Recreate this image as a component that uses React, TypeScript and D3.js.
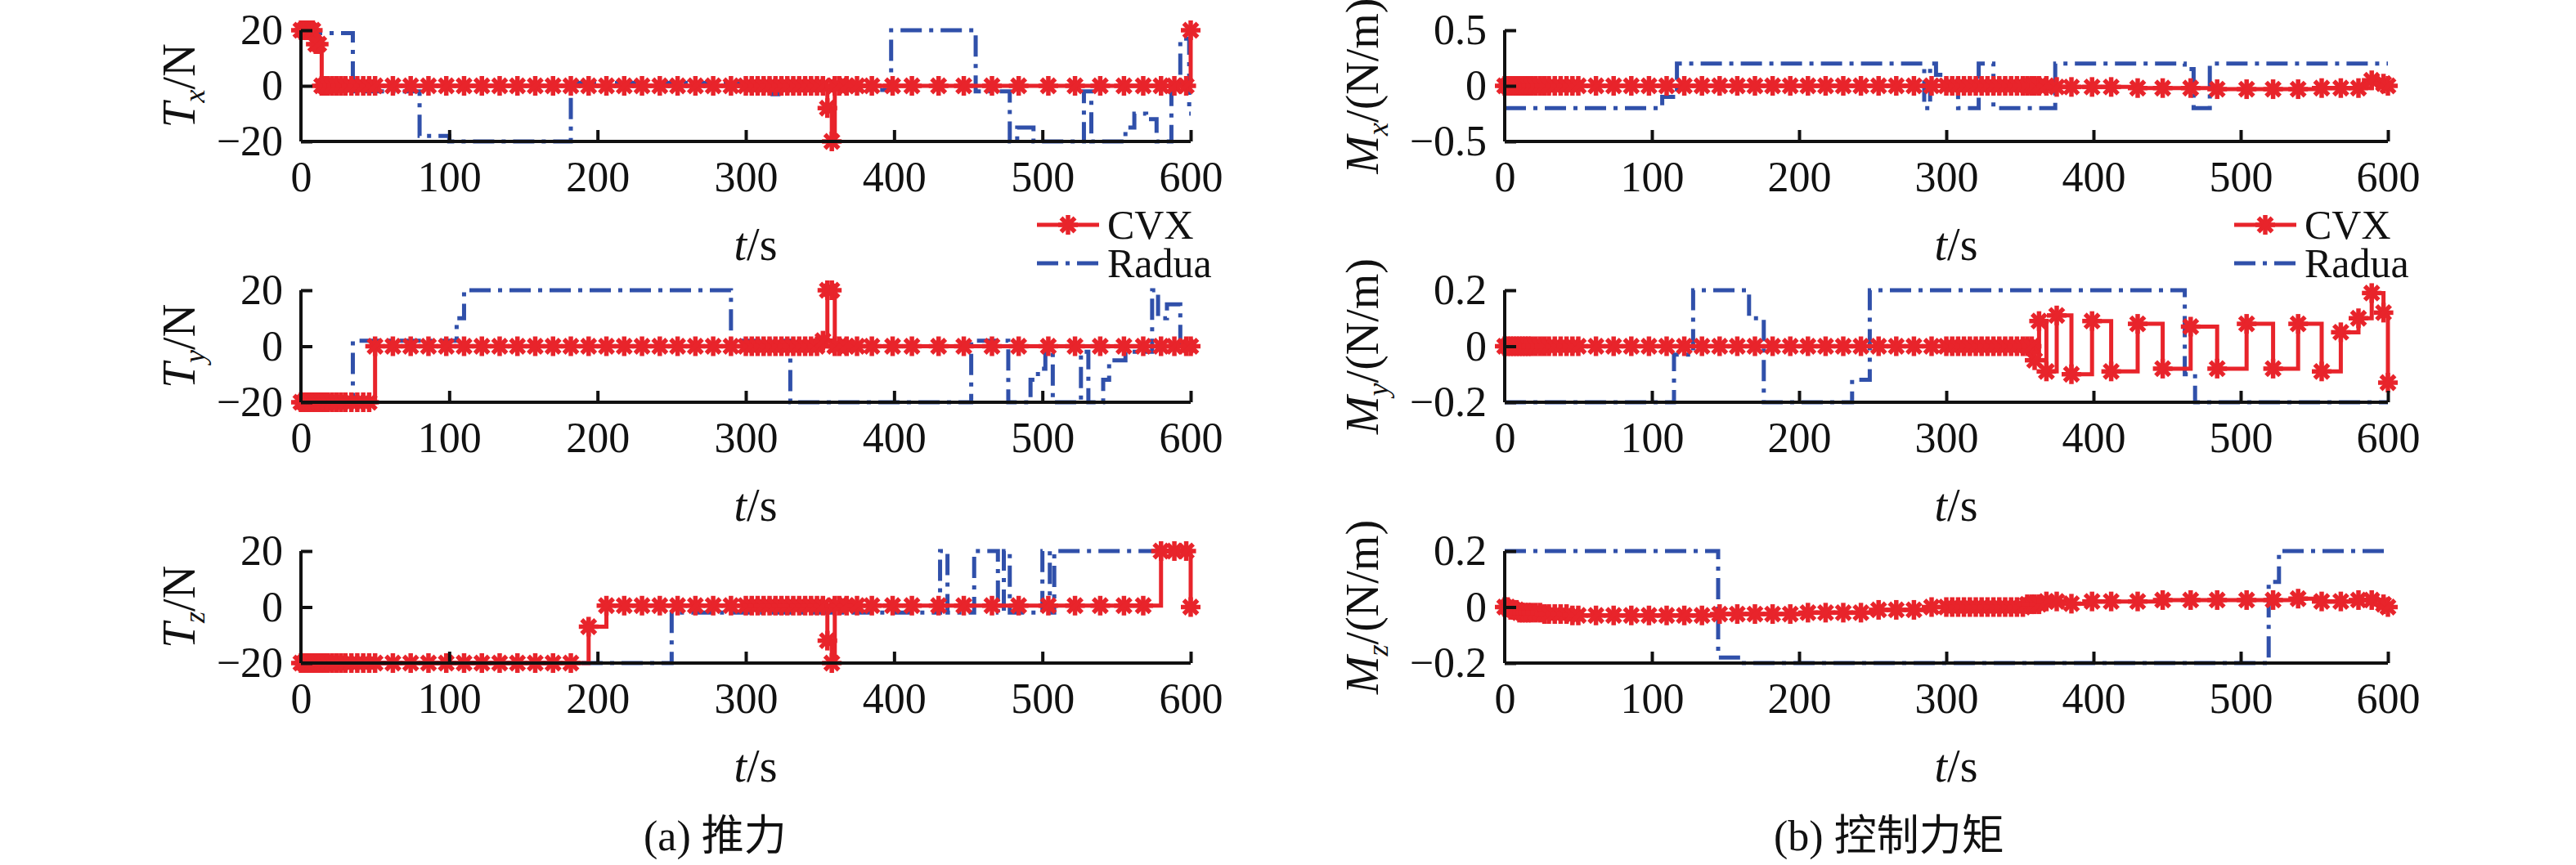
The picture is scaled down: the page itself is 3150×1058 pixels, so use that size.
import * as d3 from 'd3'
import { useEffect, useRef } from 'react'

// marker (sample) times of the CVX solution
const sampleTimes = [
  0, 2, 4, 6, 8, 10, 12, 14, 16, 18, 21, 24, 27, 30, 34, 38, 42, 46, 50, 62, 74, 86, 98, 110, 122, 134, 146, 158, 170,
  182, 194, 206, 218, 230, 242, 254, 266, 278, 290, 300, 304, 308, 312, 316, 320, 324, 328, 332, 336, 340, 344, 348,
  352, 355, 358, 360, 363, 368, 375, 385, 399, 412, 430, 447, 466, 484, 504, 522, 539, 555, 568, 580, 589, 597, 600,
]

// step series: [start time, value]
const cvxTx: [number, number][] = [[0, 20], [10, 15], [14, 0], [355, -8], [358, -20], [360, 0], [598, 20]]
const raduaTx: [number, number][] = [
  [0, 19], [35, -2], [80, -18], [100, -20], [182, 1], [318, -3], [322, -1.5], [398, 20], [455, -2], [478, -20],
  [483, -15], [494, -20], [528, -2], [533, -20], [556, -15], [562, -10], [570, -12], [577, -20], [587, -1], [593, 17],
  [599, -10],
]
const cvxTy: [number, number][] = [[0, -20], [47, 0], [350, 2], [355, 20], [360, 0]]
const raduaTy: [number, number][] = [
  [0, -20], [35, 2], [105, 10], [110, 20], [290, 2], [330, -20], [452, 2], [477, -20], [492, -12], [497, -8],
  [502, -2], [507, -20], [526, -2], [531, -20], [541, -12], [545, -5], [550, -5], [556, -2], [574, 20], [578, 10],
  [584, 15], [593, 0],
]
const cvxTz: [number, number][] = [[0, -20], [185, -7], [198, 0.5], [355, -12], [358, -20], [360, 0.5], [570, 20], [600, 0]]
const raduaTz: [number, number][] = [
  [0, -20], [250, -2], [431, 20], [436, -2], [454, 20], [470, -2], [474, 20], [478, -2], [500, 20], [505, -2], [508, 20],
]
const cvxMx: [number, number][] = [[0, 0], [370, -0.01], [420, -0.02], [470, -0.03], [540, -0.02], [585, 0.05], [595, 0.02], [600, 0]]
const raduaMx: [number, number][] = [
  [0, -0.2], [107, -0.1], [117, 0.2], [285, -0.2], [289, 0.2], [293, 0.1], [300, 0.05], [308, -0.2], [322, 0.2],
  [332, -0.2], [374, 0.2], [462, 0.15], [468, -0.2], [479, 0.2],
]
const cvxMy: [number, number][] = [
  [0, 0], [360, -0.05], [363, 0.09], [368, -0.09], [375, 0.11], [385, -0.1], [399, 0.09], [412, -0.09], [430, 0.08],
  [447, -0.08], [466, 0.07], [484, -0.08], [504, 0.08], [522, -0.08], [539, 0.08], [555, -0.09], [568, 0.05],
  [580, 0.1], [589, 0.19], [597, 0.12], [600, -0.13],
]
const raduaMy: [number, number][] = [
  [0, -0.2], [115, -0.03], [128, 0.2], [166, 0.1], [176, -0.2], [236, -0.12], [248, 0.2], [462, -0.1], [469, -0.2],
]
const cvxMz: [number, number][] = [
  [0, 0], [3, -0.01], [10, -0.02], [25, -0.025], [45, -0.03], [140, -0.025], [200, -0.02], [250, -0.01], [290, 0],
  [355, 0.01], [365, 0.02], [380, 0.012], [395, 0.02], [440, 0.025], [530, 0.03], [555, 0.02], [575, 0.025],
  [595, 0.01], [600, 0],
]
const raduaMz: [number, number][] = [[0, 0.2], [145, -0.18], [160, -0.2], [519, 0.09], [526, 0.2]]

const xTicks = [0, 100, 200, 300, 400, 500, 600]
const panels = [
  { col: 0, row: 0, sym: 'T', sub: 'x', unit: '/N', dom: [-20, 20], ticks: [-20, 0, 20], cvx: cvxTx, radua: raduaTx, legend: true },
  { col: 0, row: 1, sym: 'T', sub: 'y', unit: '/N', dom: [-20, 20], ticks: [-20, 0, 20], cvx: cvxTy, radua: raduaTy, legend: false },
  { col: 0, row: 2, sym: 'T', sub: 'z', unit: '/N', dom: [-20, 20], ticks: [-20, 0, 20], cvx: cvxTz, radua: raduaTz, legend: false },
  { col: 1, row: 0, sym: 'M', sub: 'x', unit: '/(N/m)', dom: [-0.5, 0.5], ticks: [-0.5, 0, 0.5], cvx: cvxMx, radua: raduaMx, legend: true },
  { col: 1, row: 1, sym: 'M', sub: 'y', unit: '/(N/m)', dom: [-0.2, 0.2], ticks: [-0.2, 0, 0.2], cvx: cvxMy, radua: raduaMy, legend: false },
  { col: 1, row: 2, sym: 'M', sub: 'z', unit: '/(N/m)', dom: [-0.2, 0.2], ticks: [-0.2, 0, 0.2], cvx: cvxMz, radua: raduaMz, legend: false },
]
const captions = ['(a) 推力', '(b) 控制力矩']

const RED = '#e8242b'
const BLUE = '#3050aa'
const FONT = '"Liberation Serif", "Times New Roman", serif'
const DASH = '26 9 5 9'

const stepAt = (steps: [number, number][], t: number) => {
  let v = steps[0][1]
  for (const [s, val] of steps) if (s <= t) v = val
  return v
}

export default function App() {
  const ref = useRef<SVGSVGElement>(null)

  useEffect(() => {
    document.body.style.margin = '0'
    const svg = d3.select(ref.current)
    svg.selectAll('*').remove()
    const colX = [[368, 1456], [1840, 2920]]
    const rowY = [[37, 173], [355, 492], [674, 811]]

    const star = (g: d3.Selection<SVGGElement, unknown, null, undefined>, x: number, y: number) => {
      const r = 12
      const s = g.append('g').attr('transform', `translate(${x},${y})`).attr('stroke', RED).attr('stroke-width', 5.5)
      for (let a = 0; a < 180; a += 45) {
        const rad = (a * Math.PI) / 180
        s.append('line')
          .attr('x1', -r * Math.cos(rad)).attr('y1', -r * Math.sin(rad))
          .attr('x2', r * Math.cos(rad)).attr('y2', r * Math.sin(rad))
      }
    }

    panels.forEach((p) => {
      const [x0, x1] = colX[p.col]
      const [yTop, yBot] = rowY[p.row]
      const x = d3.scaleLinear().domain([0, 600]).range([x0, x1])
      const y = d3.scaleLinear().domain(p.dom).range([yBot, yTop])
      const g = svg.append('g')

      const stepLine = d3.line<[number, number]>().x((d) => x(d[0])).y((d) => y(d[1])).curve(d3.curveStepAfter)

      // Radua (dash-dot)
      g.append('path')
        .datum([...p.radua, [600, p.radua[p.radua.length - 1][1]] as [number, number]])
        .attr('d', stepLine)
        .attr('fill', 'none').attr('stroke', BLUE).attr('stroke-width', 5)
        .attr('stroke-dasharray', DASH)

      // CVX (solid + asterisks)
      const pts: [number, number][] = sampleTimes.map((t) => [t, stepAt(p.cvx, t)])
      g.append('path')
        .datum(pts)
        .attr('d', stepLine)
        .attr('fill', 'none').attr('stroke', RED).attr('stroke-width', 5)
      pts.forEach((d) => star(g, x(d[0]), y(d[1])))

      // axes
      const xAxis = svg.append('g').attr('transform', `translate(0,${yBot})`)
        .call(d3.axisBottom(x).tickValues(xTicks).tickSize(-14).tickPadding(24).tickSizeOuter(0))
      const yAxis = svg.append('g').attr('transform', `translate(${x0},0)`)
        .call(d3.axisLeft(y).tickValues(p.ticks).tickSize(-14).tickPadding(22).tickSizeOuter(0)
          .tickFormat((v) => (+v < 0 ? '\u2212' + Math.abs(+v) : String(v))))
      ;[xAxis, yAxis].forEach((a) => {
        a.attr('font-family', FONT).attr('font-size', 52)
        a.select('.domain').attr('stroke-width', 4).attr('stroke', '#111')
        a.selectAll('.tick line').attr('stroke-width', 4).attr('stroke', '#111')
        a.selectAll('.tick text').attr('fill', '#111')
      })
      xAxis.selectAll('.tick').filter((d) => d === 0).select('line').remove()
      yAxis.select('.domain').attr('d', `M0,${yBot}V${yTop}`)
      xAxis.select('.domain').attr('d', `M${x0},0H${x1}`)

      // y title
      const yt = svg.append('text')
        .attr('transform', `translate(${x0 - (p.col === 0 ? 130 : 155)},${(yTop + yBot) / 2}) rotate(-90)`)
        .attr('text-anchor', 'middle').attr('font-family', FONT).attr('font-size', 56).attr('fill', '#111')
      yt.append('tspan').attr('font-style', 'italic').text(p.sym)
      yt.append('tspan').attr('font-style', 'italic').attr('font-size', 36).attr('dy', 12).text(p.sub)
      yt.append('tspan').attr('dy', -12).text(p.unit)

      // x title
      const xt = svg.append('text')
        .attr('x', (x0 + x1) / 2 + 12).attr('y', yBot + 145)
        .attr('text-anchor', 'middle').attr('font-family', FONT).attr('font-size', 56).attr('fill', '#111')
      xt.append('tspan').attr('font-style', 'italic').text('t')
      xt.append('tspan').text('/s')

      if (p.legend) {
        const lx = x1 - 188
        const lg = svg.append('g').attr('font-family', FONT).attr('font-size', 50).attr('fill', '#111')
        lg.append('line').attr('x1', lx).attr('x2', lx + 76).attr('y1', 275).attr('y2', 275)
          .attr('stroke', RED).attr('stroke-width', 5)
        star(lg, lx + 38, 275)
        lg.append('text').attr('x', lx + 86).attr('y', 292).text('CVX')
        lg.append('line').attr('x1', lx).attr('x2', lx + 76).attr('y1', 322).attr('y2', 322)
          .attr('stroke', BLUE).attr('stroke-width', 5).attr('stroke-dasharray', DASH)
        lg.append('text').attr('x', lx + 86).attr('y', 339).text('Radua')
      }
    })

    captions.forEach((c, i) => {
      svg.append('text')
        .attr('x', i === 0 ? 787 : 2169).attr('y', 1040)
        .attr('font-family', `${FONT}, "Noto Sans CJK SC"`).attr('font-size', 52).attr('fill', '#111')
        .text(c)
    })
  }, [])

  return <svg ref={ref} width={3150} height={1058} style={{ display: 'block', background: '#fff' }} />
}
